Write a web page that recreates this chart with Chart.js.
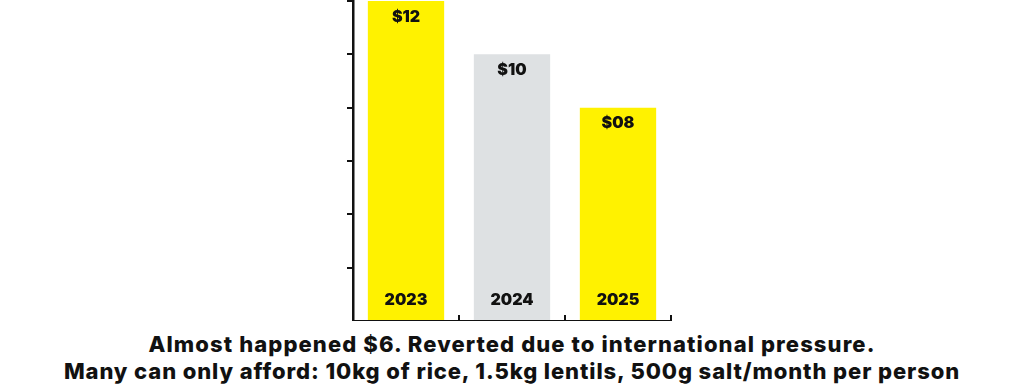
<!DOCTYPE html>
<html>
<head>
<meta charset="utf-8">
<script src="https://cdn.jsdelivr.net/npm/chart.js@4.4.1/dist/chart.umd.min.js"></script>
<style>
  html, body { margin: 0; padding: 0; background: #fff; }
  #wrap { position: relative; width: 1024px; height: 321px; }
  #caption {
    width: 1024px;
    text-align: center;
    font-family: Inter, "Open Sans", sans-serif;
    font-weight: 800;
    font-size: 22px;
    letter-spacing: 0.9px;
    line-height: 27px;
    color: #111;
    margin-top: 10px;
  }
  #caption .l1 { letter-spacing: 1.1px; }
</style>
</head>
<body>
<div id="wrap"><canvas id="myChart"></canvas></div>
<div id="caption"><span class="l1">Almost happened $6. Reverted due to international pressure.</span><br>Many can only afford: 10kg of rice, 1.5kg lentils, 500g salt/month per person</div>
<script>
// Dados do gráfico
const years = ['2023', '2024', '2025'];
const prices = [12, 10, 8];
const barColors = ['#fff200', '#dee1e3', '#fff200'];

// Rótulos dentro das barras (valor em cima, ano embaixo)
const barLabels = {
    id: 'barLabels',
    afterDatasetsDraw(chart) {
        const ctx = chart.ctx;
        const meta = chart.getDatasetMeta(0);
        const bottom = chart.chartArea.bottom;
        ctx.save();
        ctx.fillStyle = '#111';
        ctx.textAlign = 'center';
        ctx.textBaseline = 'middle';
        ctx.font = '900 16px Inter, "Open Sans", sans-serif';
        meta.data.forEach((bar, i) => {
            const v = prices[i];
            ctx.fillText('$' + String(v).padStart(2, '0'), bar.x, bar.y + 16);
            ctx.fillText(years[i], bar.x, bottom - 21);
        });
        ctx.restore();
    }
};

var ctx = document.getElementById('myChart').getContext('2d');
var chart = new Chart(ctx, {
    type: 'bar',
    data: {
        labels: years,
        datasets: [{
            data: prices,
            backgroundColor: barColors,
            borderWidth: 0,
            barPercentage: 0.72,
            categoryPercentage: 1
        }]
    },
    options: {
        responsive: true,
        maintainAspectRatio: false,
        animation: false,
        layout: { padding: { left: 347, right: 353, top: 1, bottom: 0 } },
        plugins: {
            legend: { display: false },
            tooltip: { enabled: false }
        },
        scales: {
            x: {
                offset: true,
                grid: {
                    offset: true,
                    drawOnChartArea: false,
                    drawTicks: true,
                    tickLength: -6,
                    color: '#111',
                    lineWidth: 2
                },
                border: { color: '#111', width: 2.5 },
                ticks: { display: false }
            },
            y: {
                min: 0,
                max: 12,
                ticks: { display: false, stepSize: 2 },
                grid: {
                    drawOnChartArea: false,
                    tickLength: 6,
                    lineWidth: 2,
                    color: c => (c.tick && c.tick.value === 0) ? 'rgba(0,0,0,0)' : '#111'
                },
                border: { color: '#111', width: 2.5 }
            }
        }
    },
    plugins: [barLabels]
});
</script>
</body>
</html>
